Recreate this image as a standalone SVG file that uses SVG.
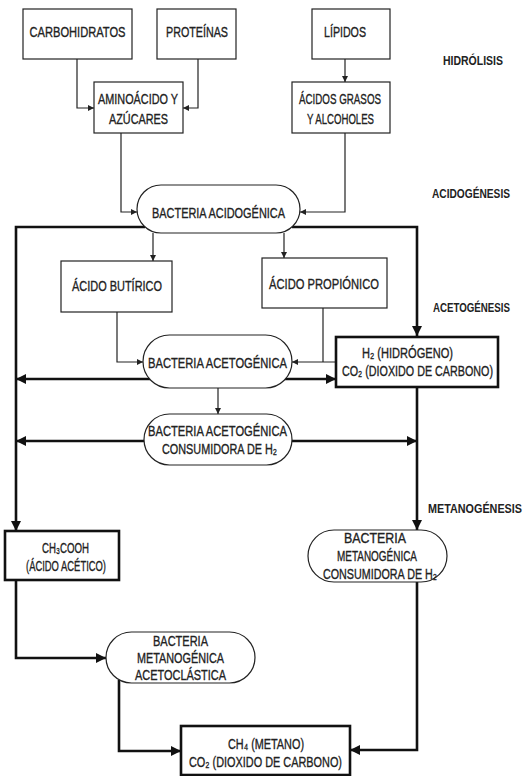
<svg xmlns="http://www.w3.org/2000/svg" width="527" height="776" viewBox="0 0 527 776">
<style>
.box{fill:#fff;stroke:#222;stroke-width:1.2}
.tbox{fill:#fff;stroke:#111;stroke-width:2.6}
.thin{fill:none;stroke:#222;stroke-width:1.2}
.thick{fill:none;stroke:#111;stroke-width:2.6}
text{font-family:"Liberation Sans","DejaVu Sans",Arial,sans-serif;font-size:15px;fill:#222;stroke:#222;stroke-width:0.35;text-anchor:middle}
.lab{font-weight:bold;font-size:13.5px;stroke-width:0}
</style>
<defs>
<marker id="s" viewBox="0 0 10 10" refX="10" refY="5" markerWidth="6" markerHeight="6" markerUnits="userSpaceOnUse" orient="auto"><path d="M0,0 L10,5 L0,10 z" fill="#222"/></marker>
<marker id="b" viewBox="0 0 10 10" refX="10" refY="5" markerWidth="10" markerHeight="10" markerUnits="userSpaceOnUse" orient="auto"><path d="M0,0 L10,5 L0,10 z" fill="#111"/></marker>
</defs>
<rect width="527" height="776" fill="#fff"/>
<g id="connectors">
<path class="thin" d="M77,59 V108 H94" marker-end="url(#s)"/>
<path class="thin" d="M198,59 V108 H183" marker-end="url(#s)"/>
<path class="thin" d="M345,59 V82" marker-end="url(#s)"/>
<path class="thin" d="M121,133 V212 H137" marker-end="url(#s)"/>
<path class="thin" d="M345,133 V212 H300" marker-end="url(#s)"/>
<path class="thin" d="M153,233 V261" marker-end="url(#s)"/>
<path class="thin" d="M284,233 V258" marker-end="url(#s)"/>
<path class="thin" d="M117,312 V362 H143" marker-end="url(#s)"/>
<path class="thin" d="M323,308 V362"/>
<path class="thin" d="M336,362 H292" marker-end="url(#s)"/>
<path class="thin" d="M218,388 V414" marker-end="url(#s)"/>
<path class="thick" d="M145,227 H16 V531" marker-end="url(#b)"/>
<path class="thick" d="M292,227 H417 V336" marker-end="url(#b)"/>
<path class="thick" d="M150,379 H16" marker-end="url(#b)"/>
<path class="thick" d="M285,379 H336" marker-end="url(#b)"/>
<path class="thick" d="M144,441 H16" marker-end="url(#b)"/>
<path class="thick" d="M292,441 H417" marker-end="url(#b)"/>
<path class="thick" d="M417,387 V530" marker-end="url(#b)"/>
<path class="thick" d="M16,580 V658 H106" marker-end="url(#b)"/>
<path class="thick" d="M417,582 V750 H350" marker-end="url(#b)"/>
<path class="thick" d="M119,680 V751 H181" marker-end="url(#b)"/>
</g>
<g id="carbohidratos"><rect class="box" x="23" y="9" width="109" height="50"/><text x="77.5" y="37" textLength="96" lengthAdjust="spacingAndGlyphs">CARBOHIDRATOS</text></g>
<g id="proteinas"><rect class="box" x="157" y="9" width="79" height="50"/><text x="197" y="37" textLength="62" lengthAdjust="spacingAndGlyphs">PROTEÍNAS</text></g>
<g id="lipidos"><rect class="box" x="312" y="9" width="78" height="50"/><text x="345" y="37" textLength="42" lengthAdjust="spacingAndGlyphs">LÍPIDOS</text></g>
<g id="hidrolisis"><text class="lab" x="473" y="65" textLength="60" lengthAdjust="spacingAndGlyphs">HIDRÓLISIS</text></g>
<g id="aminoacido"><rect class="box" x="94" y="82" width="89" height="51"/><text x="138" y="103.5" textLength="80" lengthAdjust="spacingAndGlyphs">AMINOÁCIDO Y</text><text x="138.5" y="123.5" textLength="59" lengthAdjust="spacingAndGlyphs">AZÚCARES</text></g>
<g id="acidosgrasos"><rect class="box" x="292" y="82" width="98" height="51"/><text x="340" y="103.5" textLength="82" lengthAdjust="spacingAndGlyphs">ÁCIDOS GRASOS</text><text x="340.5" y="123.5" textLength="67" lengthAdjust="spacingAndGlyphs">Y ALCOHOLES</text></g>
<g id="acidogenica"><rect class="box" x="137" y="185" width="163" height="48" rx="24"/><text x="218.5" y="217.5" textLength="133" lengthAdjust="spacingAndGlyphs">BACTERIA ACIDOGÉNICA</text></g>
<g id="acidogenesis"><text class="lab" x="471" y="198" textLength="78" lengthAdjust="spacingAndGlyphs">ACIDOGÉNESIS</text></g>
<g id="butirico"><rect class="box" x="61" y="261" width="111" height="51"/><text x="117" y="290.5" textLength="90" lengthAdjust="spacingAndGlyphs">ÁCIDO BUTÍRICO</text></g>
<g id="propionico"><rect class="box" x="262" y="258" width="125" height="50"/><text x="324" y="288.5" textLength="110" lengthAdjust="spacingAndGlyphs">ÁCIDO PROPIÓNICO</text></g>
<g id="acetogenesis"><text class="lab" x="471.5" y="312" textLength="77" lengthAdjust="spacingAndGlyphs">ACETOGÉNESIS</text></g>
<g id="acetogenica"><rect class="box" x="143" y="335" width="149" height="53" rx="26.5"/><text x="217.5" y="367.5" textLength="139" lengthAdjust="spacingAndGlyphs">BACTERIA ACETOGÉNICA</text></g>
<g id="h2"><rect class="tbox" x="336" y="337" width="162" height="50"/><text x="407.5" y="358" textLength="91" lengthAdjust="spacingAndGlyphs">H₂ (HIDRÓGENO)</text><text x="417.5" y="376" textLength="151" lengthAdjust="spacingAndGlyphs">CO₂ (DIOXIDO DE CARBONO)</text></g>
<g id="acetogenica-h2"><rect class="box" x="144" y="414" width="148" height="51" rx="25.5"/><text x="217.5" y="435.5" textLength="139" lengthAdjust="spacingAndGlyphs">BACTERIA ACETOGÉNICA</text><text x="219.5" y="453.5" textLength="115" lengthAdjust="spacingAndGlyphs">CONSUMIDORA DE H₂</text></g>
<g id="metanogenesis"><text class="lab" x="475" y="513" textLength="94" lengthAdjust="spacingAndGlyphs">METANOGÉNESIS</text></g>
<g id="acetico"><rect class="tbox" x="5" y="531" width="114" height="49"/><text x="65.5" y="552.5" textLength="47" lengthAdjust="spacingAndGlyphs">CH₃COOH</text><text x="66" y="570.5" textLength="80" lengthAdjust="spacingAndGlyphs">(ÁCIDO ACÉTICO)</text></g>
<g id="metanogenica-h2"><rect class="box" x="308" y="530" width="139" height="52" rx="26"/><text x="375" y="543" textLength="62" lengthAdjust="spacingAndGlyphs">BACTERIA</text><text x="377" y="561" textLength="80" lengthAdjust="spacingAndGlyphs">METANOGÉNICA</text><text x="380" y="579" textLength="114" lengthAdjust="spacingAndGlyphs">CONSUMIDORA DE H₂</text></g>
<g id="acetoclastica"><rect class="box" x="106" y="632" width="149" height="51" rx="25.5"/><text x="180.5" y="645.5" textLength="55" lengthAdjust="spacingAndGlyphs">BACTERIA</text><text x="180.5" y="662.5" textLength="87" lengthAdjust="spacingAndGlyphs">METANOGÉNICA</text><text x="180.5" y="679.5" textLength="91" lengthAdjust="spacingAndGlyphs">ACETOCLÁSTICA</text></g>
<g id="metano"><rect class="tbox" x="181" y="726" width="169" height="49"/><text x="266" y="748.5" textLength="76" lengthAdjust="spacingAndGlyphs">CH₄ (METANO)</text><text x="265.5" y="766.5" textLength="153" lengthAdjust="spacingAndGlyphs">CO₂ (DIOXIDO DE CARBONO)</text></g>
</svg>
